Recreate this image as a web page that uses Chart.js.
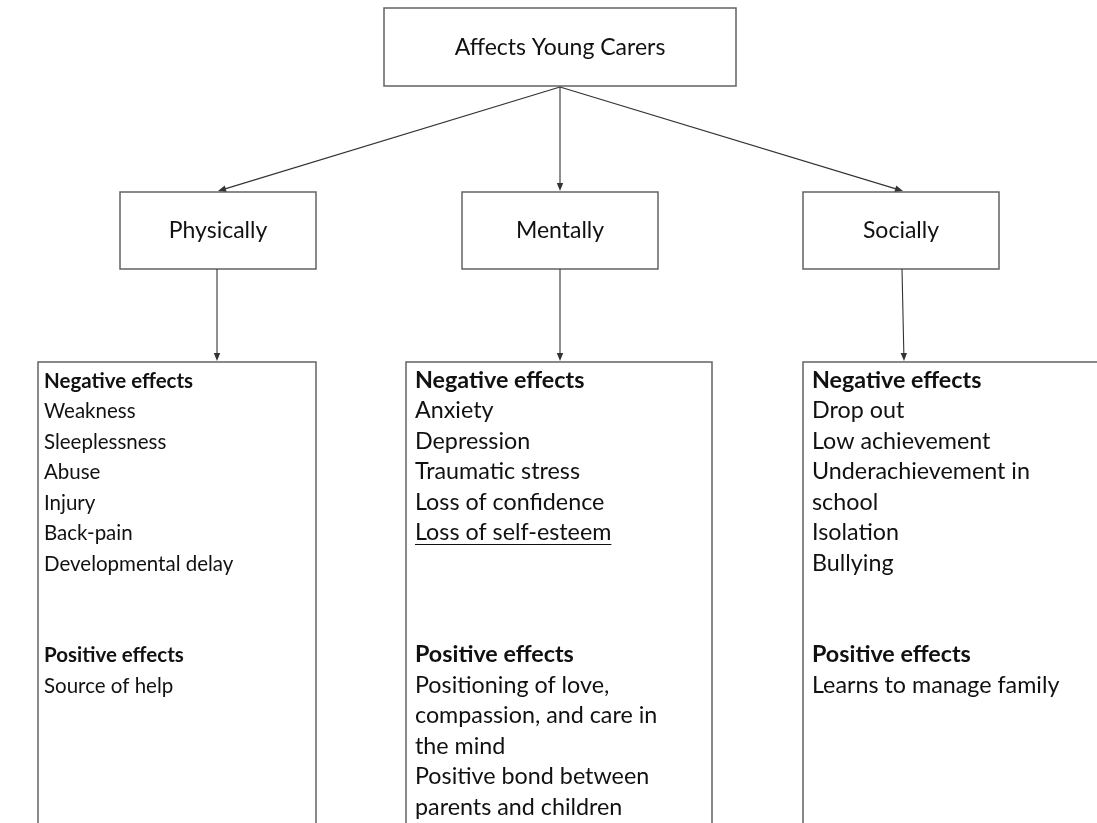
<!DOCTYPE html>
<html>
<head>
<meta charset="utf-8">
<script src="https://cdn.jsdelivr.net/npm/chart.js@4.4.1/dist/chart.umd.min.js"></script>
<style>
  html, body { margin: 0; padding: 0; background: #ffffff; }
  #wrap { width: 1097px; height: 823px; position: relative; }
</style>
</head>
<body>
<div id="wrap"><canvas id="c" width="1097" height="823"></canvas></div>
<script>
// ---------------- DATA ----------------
const rootLabel = "Affects Young Carers";
const categories = ["Physically", "Mentally", "Socially"];
const negativeHeading = "Negative effects";
const positiveHeading = "Positive effects";
const physicalNegative = ["Weakness", "Sleeplessness", "Abuse", "Injury", "Back-pain", "Developmental delay"];
const physicalPositive = ["Source of help"];
const mentalNegative = ["Anxiety", "Depression", "Traumatic stress", "Loss of confidence", "Loss of self-esteem"];
const mentalPositive = ["Positioning of love,\ncompassion, and care in\nthe mind", "Positive bond between\nparents and children"];
const socialNegative = ["Drop out", "Low achievement", "Underachievement in\nschool", "Isolation", "Bullying"];
const socialPositive = ["Learns to manage family"];

const negatives = [physicalNegative, mentalNegative, socialNegative];
const positives = [physicalPositive, mentalPositive, socialPositive];

// ---------------- LAYOUT (positions / sizes / styles) ----------------
const layout = {
  root: { x0: 384, x1: 736, y0: 8, y1: 86, baseline: 55 },
  mid: [
    { x0: 120, x1: 316, y0: 192, y1: 269, baseline: 238 },
    { x0: 462, x1: 658, y0: 192, y1: 269, baseline: 238 },
    { x0: 803, x1: 999, y0: 192, y1: 269, baseline: 238 }
  ],
  leaf: [
    { x0: 38, x1: 316, y0: 362, y1: 840, textX: 44, fontSize: 20.5 },
    { x0: 406, x1: 712, y0: 362, y1: 840, textX: 415, fontSize: 23.3 },
    { x0: 803, x1: 1120, y0: 362, y1: 840, textX: 812, fontSize: 23.3 }
  ],
  rootArrowStart: { x: 560, y: 87 },
  rootArrowEnds: [ { x: 218, y: 191 }, { x: 560, y: 191 }, { x: 903, y: 191 } ],
  midArrows: [
    { x0: 217, y0: 269, x1: 217, y1: 361 },
    { x0: 560, y0: 269, x1: 560, y1: 361 },
    { x0: 902, y0: 269, x1: 904, y1: 361 }
  ],
  firstBaseline: 387.5,
  lineStep: 30.5,
  positiveLine: 9,
  underline: { box: 1, item: 4 },
  font: "Lato, 'Open Sans', sans-serif",
  labelSize: 23,
  boxColor: "#636363",
  boxWidth: 1.5,
  arrowColor: "#333333",
  textColor: "#111111"
};

// anchor points for the chart's dataset (node centres)
const nodePoints = [
  { x: (layout.root.x0 + layout.root.x1) / 2, y: (layout.root.y0 + layout.root.y1) / 2 }
].concat(layout.mid.map(m => ({ x: (m.x0 + m.x1) / 2, y: (m.y0 + m.y1) / 2 })));

const diagramPlugin = {
  id: 'diagram',
  afterDatasetsDraw(chart) {
    const ctx = chart.ctx;
    const xs = chart.scales.x, ys = chart.scales.y;
    const X = v => xs.getPixelForValue(v);
    const Y = v => ys.getPixelForValue(v);

    ctx.save();
    // boxes
    ctx.strokeStyle = layout.boxColor;
    ctx.lineWidth = layout.boxWidth;
    const rect = b => {
      ctx.beginPath();
      ctx.rect(X(b.x0), Y(b.y0), X(b.x1) - X(b.x0), Y(b.y1) - Y(b.y0));
      ctx.stroke();
    };
    rect(layout.root);
    layout.mid.forEach(rect);
    layout.leaf.forEach(rect);

    // arrows
    const arrow = (ax, ay, bx, by) => {
      const x0 = X(ax), y0 = Y(ay), x1 = X(bx), y1 = Y(by);
      const ang = Math.atan2(y1 - y0, x1 - x0);
      const L = 8, W = 3.2;
      ctx.strokeStyle = layout.arrowColor;
      ctx.fillStyle = layout.arrowColor;
      ctx.lineWidth = 1.1;
      ctx.beginPath();
      ctx.moveTo(x0, y0);
      ctx.lineTo(x1 - Math.cos(ang) * L * 0.6, y1 - Math.sin(ang) * L * 0.6);
      ctx.stroke();
      ctx.beginPath();
      ctx.moveTo(x1, y1);
      ctx.lineTo(x1 - Math.cos(ang) * L + Math.sin(ang) * W, y1 - Math.sin(ang) * L - Math.cos(ang) * W);
      ctx.lineTo(x1 - Math.cos(ang) * L - Math.sin(ang) * W, y1 - Math.sin(ang) * L + Math.cos(ang) * W);
      ctx.closePath();
      ctx.fill();
    };
    layout.rootArrowEnds.forEach(e => arrow(layout.rootArrowStart.x, layout.rootArrowStart.y, e.x, e.y));
    layout.midArrows.forEach(a => arrow(a.x0, a.y0, a.x1, a.y1));

    // labels
    ctx.fillStyle = layout.textColor;
    ctx.textBaseline = 'alphabetic';
    ctx.textAlign = 'center';
    ctx.font = layout.labelSize + "px " + layout.font;
    ctx.fillText(rootLabel, X((layout.root.x0 + layout.root.x1) / 2), Y(layout.root.baseline));
    categories.forEach((c, i) => {
      const m = layout.mid[i];
      ctx.fillText(c, X((m.x0 + m.x1) / 2), Y(m.baseline));
    });

    // leaf texts
    ctx.textAlign = 'left';
    for (let i = 0; i < 3; i++) {
      const lf = layout.leaf[i];
      const reg = lf.fontSize + "px " + layout.font;
      const bold = "bold " + lf.fontSize + "px " + layout.font;
      const tx = X(lf.textX);
      const by = n => Y(layout.firstBaseline + n * layout.lineStep);
      let line = 0;
      ctx.font = bold;
      ctx.fillText(negativeHeading, tx, by(line++));
      ctx.font = reg;
      negatives[i].forEach((item, k) => {
        item.split("\n").forEach(part => {
          const yy = by(line++);
          ctx.fillText(part, tx, yy);
          if (layout.underline.box === i && layout.underline.item === k) {
            const w = ctx.measureText(part).width;
            ctx.beginPath();
            ctx.strokeStyle = layout.textColor;
            ctx.lineWidth = 1.2;
            ctx.moveTo(tx, yy + 4.5);
            ctx.lineTo(tx + w, yy + 4.5);
            ctx.stroke();
          }
        });
      });
      line = layout.positiveLine;
      ctx.font = bold;
      ctx.fillText(positiveHeading, tx, by(line++));
      ctx.font = reg;
      positives[i].forEach(item => {
        item.split("\n").forEach(part => ctx.fillText(part, tx, by(line++)));
      });
    }
    ctx.restore();
  }
};

new Chart(document.getElementById('c'), {
  type: 'scatter',
  data: {
    datasets: [{
      label: 'nodes',
      data: nodePoints,
      pointRadius: 0,
      pointHoverRadius: 0
    }]
  },
  options: {
    responsive: false,
    animation: false,
    devicePixelRatio: 1,
    layout: { padding: 0 },
    plugins: { legend: { display: false }, tooltip: { enabled: false } },
    events: [],
    scales: {
      x: { type: 'linear', min: 0, max: 1097, display: false },
      y: { type: 'linear', min: 0, max: 823, reverse: true, display: false }
    }
  },
  plugins: [diagramPlugin]
});
</script>
</body>
</html>
